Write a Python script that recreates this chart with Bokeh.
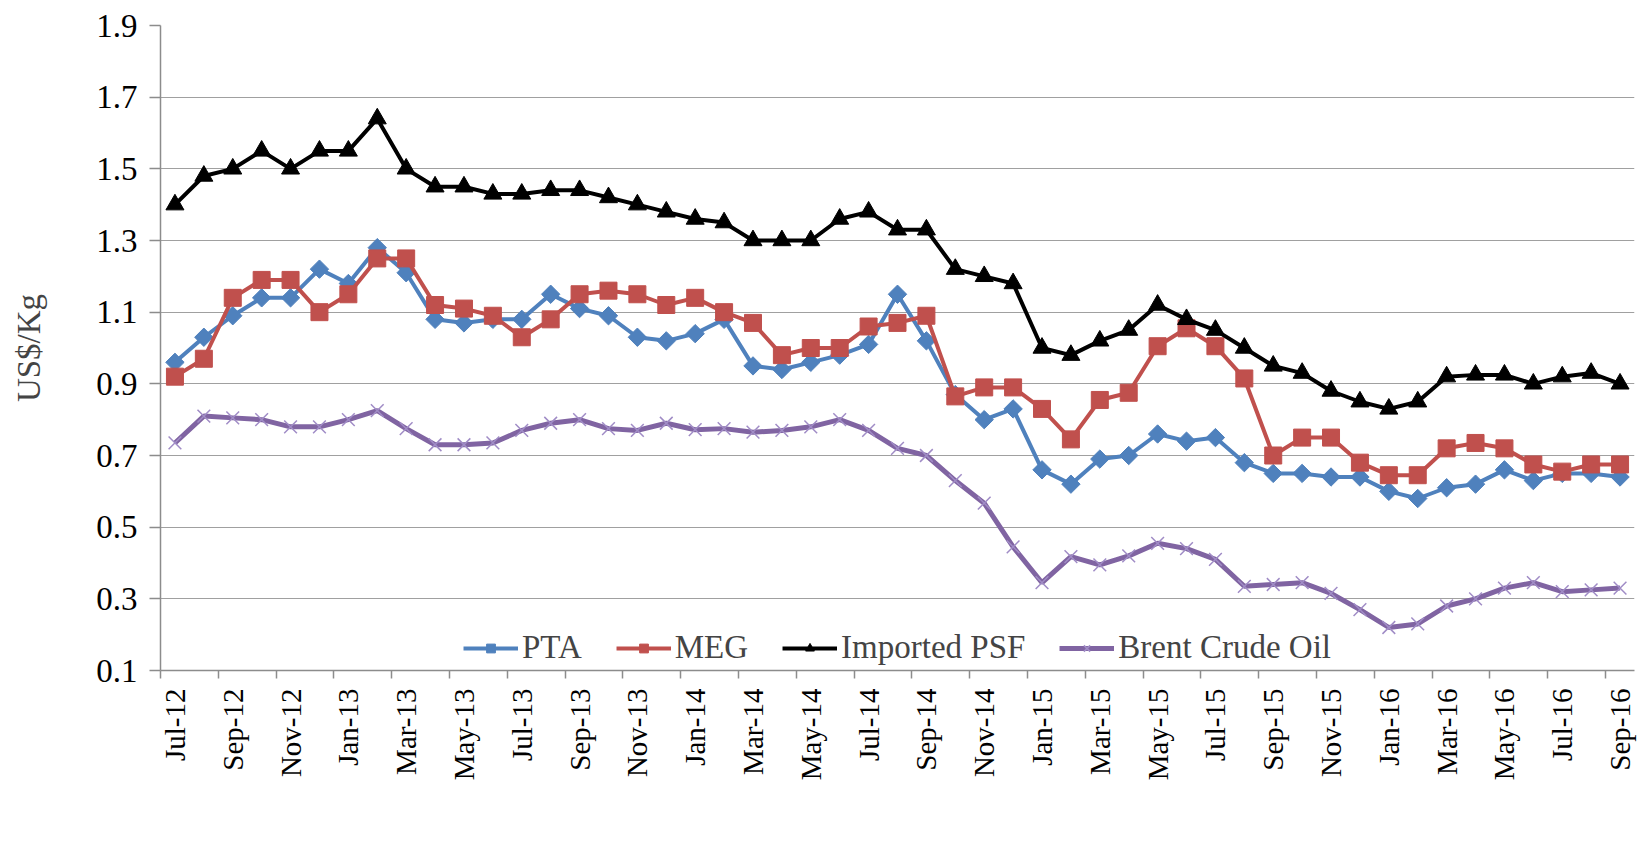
import numpy as np
from bokeh.plotting import figure
from bokeh.models import Range1d, FixedTicker, Legend, LegendItem, PrintfTickFormatter
from bokeh.embed import file_html
from bokeh.resources import INLINE

months = ["Jul-12", "Aug-12", "Sep-12", "Oct-12", "Nov-12", "Dec-12",
          "Jan-13", "Feb-13", "Mar-13", "Apr-13", "May-13", "Jun-13",
          "Jul-13", "Aug-13", "Sep-13", "Oct-13", "Nov-13", "Dec-13",
          "Jan-14", "Feb-14", "Mar-14", "Apr-14", "May-14", "Jun-14",
          "Jul-14", "Aug-14", "Sep-14", "Oct-14", "Nov-14", "Dec-14",
          "Jan-15", "Feb-15", "Mar-15", "Apr-15", "May-15", "Jun-15",
          "Jul-15", "Aug-15", "Sep-15", "Oct-15", "Nov-15", "Dec-15",
          "Jan-16", "Feb-16", "Mar-16", "Apr-16", "May-16", "Jun-16",
          "Jul-16", "Aug-16", "Sep-16"]

pta = [0.96, 1.03, 1.09, 1.14, 1.14, 1.22, 1.18, 1.28, 1.21, 1.08, 1.07, 1.08,
       1.08, 1.15, 1.11, 1.09, 1.03, 1.02, 1.04, 1.08, 0.95, 0.94, 0.96, 0.98,
       1.01, 1.15, 1.02, 0.87, 0.80, 0.83, 0.66, 0.62, 0.69, 0.70, 0.76, 0.74,
       0.75, 0.68, 0.65, 0.65, 0.64, 0.64, 0.60, 0.58, 0.61, 0.62, 0.66, 0.63,
       0.65, 0.65, 0.64]

meg = [0.92, 0.97, 1.14, 1.19, 1.19, 1.10, 1.15, 1.25, 1.25, 1.12, 1.11, 1.09,
       1.03, 1.08, 1.15, 1.16, 1.15, 1.12, 1.14, 1.10, 1.07, 0.98, 1.00, 1.00,
       1.06, 1.07, 1.09, 0.865, 0.89, 0.89, 0.83, 0.745, 0.855, 0.875, 1.005, 1.055,
       1.005, 0.915, 0.70, 0.75, 0.75, 0.68, 0.645, 0.645, 0.72, 0.735, 0.72, 0.675,
       0.655, 0.675, 0.675]

psf = [1.40, 1.48, 1.50, 1.55, 1.50, 1.55, 1.55, 1.64, 1.50, 1.45, 1.45, 1.43,
       1.43, 1.44, 1.44, 1.42, 1.40, 1.38, 1.36, 1.35, 1.30, 1.30, 1.30, 1.36,
       1.38, 1.33, 1.33, 1.22, 1.20, 1.18, 1.00, 0.98, 1.02, 1.05, 1.12, 1.08,
       1.05, 1.00, 0.95, 0.93, 0.88, 0.85, 0.83, 0.85, 0.92, 0.925, 0.925, 0.90,
       0.92, 0.93, 0.90]

brent = [0.735, 0.81, 0.805, 0.80, 0.78, 0.78, 0.80, 0.825, 0.775, 0.73, 0.73, 0.735,
         0.77, 0.79, 0.80, 0.775, 0.77, 0.79, 0.772, 0.775, 0.765, 0.77, 0.78, 0.80,
         0.77, 0.72, 0.70, 0.63, 0.567, 0.445, 0.345, 0.418, 0.395, 0.42, 0.455, 0.44,
         0.41, 0.335, 0.34, 0.345, 0.315, 0.27, 0.22, 0.23, 0.28, 0.30, 0.33, 0.345,
         0.32, 0.325, 0.33]

series_names = ["PTA", "MEG", "Imported PSF", "Brent Crude Oil"]
y_ticks = [0.1, 0.3, 0.5, 0.7, 0.9, 1.1, 1.3, 1.5, 1.7, 1.9]

FONT = "Liberation Serif"
AXIS_GRAY = "#8c8c8c"

n = len(months)
x = list(range(n))

p = figure(frame_width=1474, frame_height=645,
           x_range=Range1d(-0.5, n - 0.5), y_range=Range1d(y_ticks[0], y_ticks[-1]),
           output_backend="svg", toolbar_location=None,
           min_border_left=160, min_border_right=6, min_border_top=25,
           min_border_bottom=183)
p.outline_line_color = None
p.background_fill_color = "white"

# x axis
label_pos = list(range(0, n, 2))
p.xaxis.ticker = FixedTicker(ticks=label_pos, minor_ticks=[i - 0.5 for i in label_pos])
p.xaxis.major_label_overrides = {i: months[i] for i in label_pos}
p.xaxis.major_label_orientation = np.pi / 2
p.xaxis.major_tick_out = 0
p.xaxis.major_tick_in = 0
p.xaxis.minor_tick_out = 8
p.xaxis.minor_tick_in = 0
p.xaxis.minor_tick_line_color = AXIS_GRAY
p.xaxis.minor_tick_line_width = 1.5
p.xaxis.axis_line_color = AXIS_GRAY
p.xaxis.axis_line_width = 1.5
p.xaxis.major_label_text_font = FONT
p.xaxis.major_label_text_font_size = "29px"
p.xaxis.major_label_text_color = "black"
p.xaxis.major_label_standoff = 10

# y axis
p.yaxis.ticker = FixedTicker(ticks=y_ticks)
p.yaxis.formatter = PrintfTickFormatter(format="%.1f")
p.yaxis.major_tick_out = 11
p.yaxis.major_tick_in = 0
p.yaxis.minor_tick_line_color = None
p.yaxis.major_tick_line_color = AXIS_GRAY
p.yaxis.major_tick_line_width = 1.5
p.yaxis.axis_line_color = AXIS_GRAY
p.yaxis.axis_line_width = 1.5
p.yaxis.major_label_text_font = FONT
p.yaxis.major_label_text_font_size = "33px"
p.yaxis.major_label_text_color = "black"
p.yaxis.major_label_standoff = 12
p.yaxis.axis_label = "US$/Kg"
p.yaxis.axis_label_text_font = FONT
p.yaxis.axis_label_text_font_size = "33px"
p.yaxis.axis_label_text_font_style = "normal"
p.yaxis.axis_label_standoff = 46

p.xgrid.grid_line_color = None
p.ygrid.grid_line_color = "#a0a0a0"
p.ygrid.grid_line_width = 1

items = []

l1 = p.line(x, pta, line_color="#4F81BD", line_width=4)
m1 = p.scatter(x, pta, marker="square", angle=np.pi / 4, size=13,
               fill_color="#4F81BD", line_color="#4F81BD")
items.append(LegendItem(label=series_names[0], renderers=[l1, m1]))

l2 = p.line(x, meg, line_color="#C0504D", line_width=4)
m2 = p.scatter(x, meg, marker="square", size=17,
               fill_color="#C0504D", line_color="#C0504D")
items.append(LegendItem(label=series_names[1], renderers=[l2, m2]))

l3 = p.line(x, psf, line_color="black", line_width=4)
m3 = p.scatter(x, psf, marker="triangle", size=18,
               fill_color="black", line_color="black")
items.append(LegendItem(label=series_names[2], renderers=[l3, m3]))

l4 = p.line(x, brent, line_color="#8064A2", line_width=5)
m4 = p.scatter(x, brent, marker="x", size=18, line_color="#A08CC6", line_width=1.5)
items.append(LegendItem(label=series_names[3], renderers=[l4, m4]))

legend = Legend(items=items, orientation="horizontal", location="bottom_center",
                label_text_font=FONT, label_text_font_size="33px",
                label_standoff=4, glyph_width=55, glyph_height=22,
                spacing=34, padding=0, margin=4,
                border_line_color=None, background_fill_alpha=0)
p.add_layout(legend)

open("out.html", "w").write(file_html(p, INLINE))
